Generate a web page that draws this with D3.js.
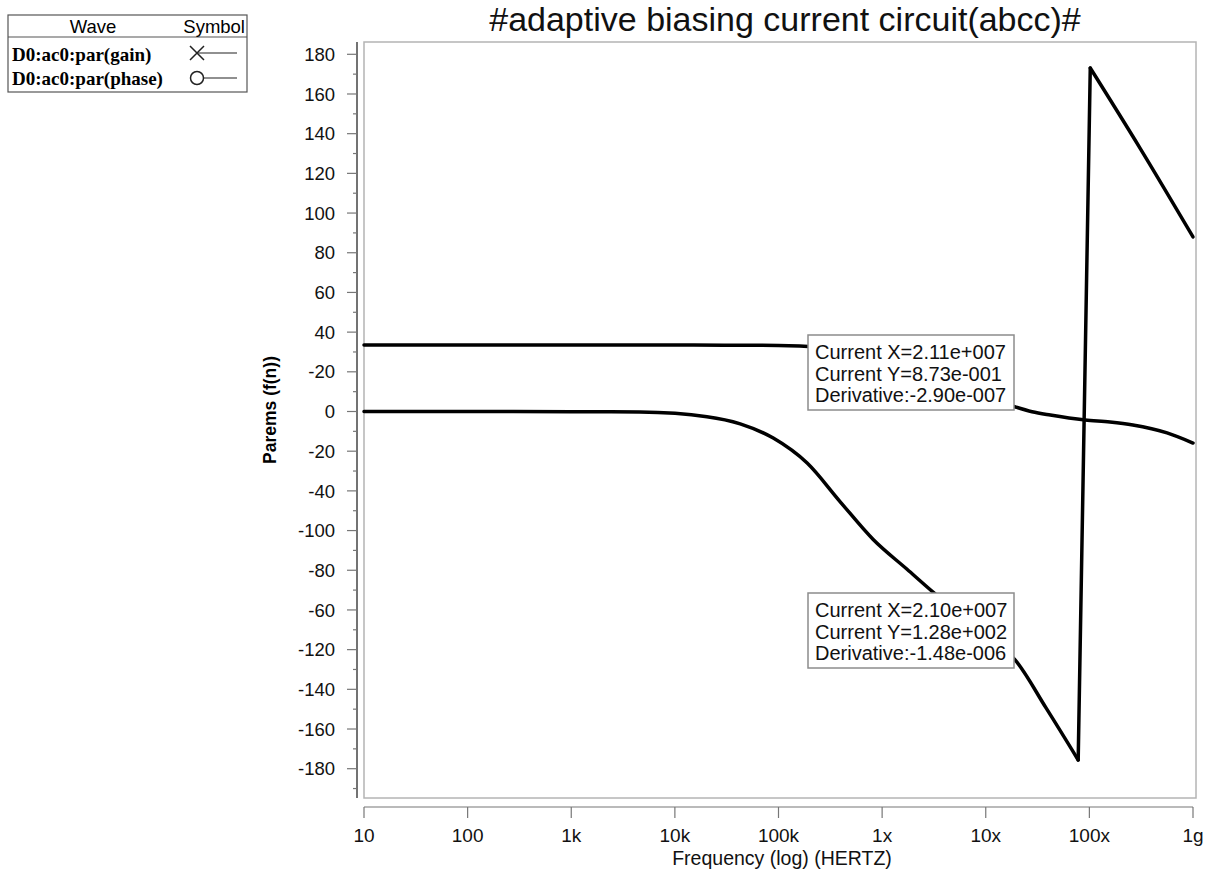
<!DOCTYPE html>
<html>
<head>
<meta charset="utf-8">
<script src="https://cdn.jsdelivr.net/npm/d3@7"></script>
<style>
  html, body { margin: 0; padding: 0; background: #fff; }
  svg { display: block; font-family: "Liberation Sans", Arial, sans-serif; }
</style>
</head>
<body>
<svg id="chart" width="1205" height="869"></svg>
<script>
// --- data ---
const freqTicks = [10, 1e2, 1e3, 1e4, 1e5, 1e6, 1e7, 1e8, 1e9];
const freqTickLabels = ['10', '100', '1k', '10k', '100k', '1x', '10x', '100x', '1g'];

const yTicks = [180, 160, 140, 120, 100, 80, 60, 40, 20, 0, -20, -40, -60, -80, -100, -120, -140, -160, -180];
// labels exactly as printed on the original axis
const yTickLabels = ['180', '160', '140', '120', '100', '80', '60', '40', '-20', '0', '-20', '-40', '-100', '-80', '-60', '-120', '-140', '-160', '-180'];

const gainFreq = [10, 1e2, 1e3, 1e4, 3e4, 1e5, 1.6e5, 3e5, 1e6, 3e6, 1e7, 1.9e7, 2.8e7, 4.2e7, 9.1e7, 1.58e8, 2.63e8, 5.62e8, 1e9];
const gainVal  = [33.5, 33.5, 33.5, 33.5, 33.4, 33.3, 33.0, 32.0, 26.5, 17.5, 7.5, 2.4, -0.1, -1.8, -4.3, -5.3, -6.8, -10.8, -15.9];

const phaseFreq = [10, 1e2, 1e3, 4.6e3, 2.04e4, 4.27e4, 8.9e4, 1.89e5, 3.94e5, 8.2e5, 1.74e6, 3.1e6, 5e6, 1e7, 1.92e7, 3.83e7, 7.8e7, 1.02e8, 3.1e8, 1e9];
const phaseVal  = [0, 0, -0.1, -0.3, -2.6, -6.2, -13.4, -26.0, -45.5, -64.5, -79.5, -91.0, -100, -113, -125.2, -149.5, -175.6, 173.1, 132.5, 88];

const legendRows = ['D0:ac0:par(gain)', 'D0:ac0:par(phase)'];
const cursorNotes = [
  ['Current X=2.11e+007', 'Current Y=8.73e-001', 'Derivative:-2.90e-007'],
  ['Current X=2.10e+007', 'Current Y=1.28e+002', 'Derivative:-1.48e-006']
];

// --- layout ---
const plot = { left: 364, right: 1196, top: 42, bottom: 798 };
const svg = d3.select('#chart');

const x = d3.scaleLog().domain([10, 1e9]).range([364, 1193]);
const y = d3.scaleLinear().domain([-180, 180]).range([768.7, 54.3]);

// plot frame
svg.append('rect')
  .attr('x', plot.left).attr('y', plot.top)
  .attr('width', plot.right - plot.left).attr('height', plot.bottom - plot.top)
  .attr('fill', '#fff').attr('stroke', '#b4b4b4').attr('stroke-width', 1.5);

// y axis (separate line left of the frame)
const yAxisX = 357;
const yg = svg.append('g');
yg.append('line').attr('x1', yAxisX).attr('x2', yAxisX)
  .attr('y1', plot.top).attr('y2', plot.bottom).attr('stroke', '#444').attr('stroke-width', 1.5);
const minorY = d3.range(-190, 181, 10).filter(v => v % 20 !== 0);
yg.selectAll('.ymin').data(minorY).enter().append('line')
  .attr('x1', yAxisX - 4).attr('x2', yAxisX)
  .attr('y1', d => y(d)).attr('y2', d => y(d))
  .attr('stroke', '#777').attr('stroke-width', 1.2);
yg.selectAll('.ymaj').data(yTicks).enter().append('line')
  .attr('x1', yAxisX - 10).attr('x2', yAxisX)
  .attr('y1', d => y(d)).attr('y2', d => y(d))
  .attr('stroke', '#777').attr('stroke-width', 1.2);
yg.selectAll('.ylab').data(yTicks).enter().append('text')
  .attr('x', 335).attr('y', d => y(d))
  .attr('dy', '0.36em').attr('text-anchor', 'end')
  .attr('font-size', 18.5).attr('fill', '#111')
  .text((d, i) => yTickLabels[i]);

svg.append('text')
  .attr('transform', 'translate(276,410) rotate(-90)')
  .attr('text-anchor', 'middle').attr('font-size', 17.5).attr('font-weight', 'bold')
  .text('Parems (f(n))');

// x axis (separate line below the frame)
const xAxisY = 807;
const xg = svg.append('g');
xg.append('line').attr('x1', x(10)).attr('x2', x(1e9))
  .attr('y1', xAxisY).attr('y2', xAxisY).attr('stroke', '#777').attr('stroke-width', 1.2);
xg.selectAll('.xt').data(freqTicks).enter().append('line')
  .attr('x1', d => x(d)).attr('x2', d => x(d))
  .attr('y1', xAxisY).attr('y2', xAxisY + 11)
  .attr('stroke', '#777').attr('stroke-width', 1.2);
xg.selectAll('.xl').data(freqTicks).enter().append('text')
  .attr('x', d => x(d)).attr('y', 842)
  .attr('text-anchor', 'middle').attr('font-size', 19).attr('fill', '#111')
  .text((d, i) => freqTickLabels[i]);

svg.append('text')
  .attr('x', 782).attr('y', 865)
  .attr('text-anchor', 'middle').attr('font-size', 19.5).attr('fill', '#111')
  .text('Frequency (log) (HERTZ)');

// title
svg.append('text')
  .attr('x', 785).attr('y', 31)
  .attr('text-anchor', 'middle').attr('font-size', 34).attr('fill', '#111')
  .text('#adaptive biasing current circuit(abcc)#');

// curves: smooth pieces, phase split where it wraps from -180 to +180
const line = d3.line().x(d => x(d[0])).y(d => y(d[1])).curve(d3.curveMonotoneX);
function drawCurve(pts) {
  svg.append('path')
    .datum(pts)
    .attr('d', line).attr('fill', 'none')
    .attr('stroke', '#000').attr('stroke-width', 3.5)
    .attr('stroke-linejoin', 'round').attr('stroke-linecap', 'round');
}
drawCurve(d3.zip(gainFreq, gainVal));

const phasePts = d3.zip(phaseFreq, phaseVal);
const wrap = phasePts.findIndex((p, i) => i > 0 && p[1] - phasePts[i - 1][1] > 180);
drawCurve(phasePts.slice(0, wrap));
svg.append('path')
  .datum(phasePts.slice(wrap - 1, wrap + 1))
  .attr('d', d3.line().x(d => x(d[0])).y(d => y(d[1])))
  .attr('fill', 'none').attr('stroke', '#000').attr('stroke-width', 3.5)
  .attr('stroke-linecap', 'round');
drawCurve(phasePts.slice(wrap));

// cursor readout boxes
const noteTops = [335, 593];
cursorNotes.forEach((lines, k) => {
  const g = svg.append('g').attr('transform', `translate(808,${noteTops[k]})`);
  g.append('rect').attr('width', 206).attr('height', 75)
    .attr('fill', '#fff').attr('stroke', '#8c8c8c').attr('stroke-width', 1.5);
  g.selectAll('text').data(lines).enter().append('text')
    .attr('x', 7).attr('y', (d, i) => 24 + i * 21.7)
    .attr('font-size', 20).attr('fill', '#111')
    .text(d => d);
});

// legend
const lg = svg.append('g');
lg.append('rect').attr('x', 8).attr('y', 15).attr('width', 239).attr('height', 77)
  .attr('fill', '#fff').attr('stroke', '#555').attr('stroke-width', 1.2);
lg.append('line').attr('x1', 8).attr('x2', 247).attr('y1', 37).attr('y2', 37)
  .attr('stroke', '#555').attr('stroke-width', 1.2);
lg.append('text').attr('x', 93).attr('y', 33).attr('text-anchor', 'middle')
  .attr('font-size', 18.5).text('Wave');
lg.append('text').attr('x', 245).attr('y', 33).attr('text-anchor', 'end')
  .attr('font-size', 18.5).text('Symbol');
lg.selectAll('.lrow').data(legendRows).enter().append('text')
  .attr('x', 12).attr('y', (d, i) => 61 + i * 24)
  .attr('font-family', '"Liberation Serif", "Times New Roman", serif')
  .attr('font-weight', 'bold').attr('font-size', 19)
  .text(d => d);
// symbols
lg.append('line').attr('x1', 197).attr('x2', 237).attr('y1', 53).attr('y2', 53).attr('stroke', '#222').attr('stroke-width', 1.2);
lg.append('path').attr('d', 'M190,46L204,60M190,60L204,46').attr('stroke', '#222').attr('stroke-width', 1.5).attr('fill', 'none');
lg.append('line').attr('x1', 203).attr('x2', 237).attr('y1', 78).attr('y2', 78).attr('stroke', '#222').attr('stroke-width', 1.2);
lg.append('circle').attr('cx', 197).attr('cy', 78).attr('r', 6.5).attr('fill', 'none').attr('stroke', '#222').attr('stroke-width', 1.5);
</script>
</body>
</html>
